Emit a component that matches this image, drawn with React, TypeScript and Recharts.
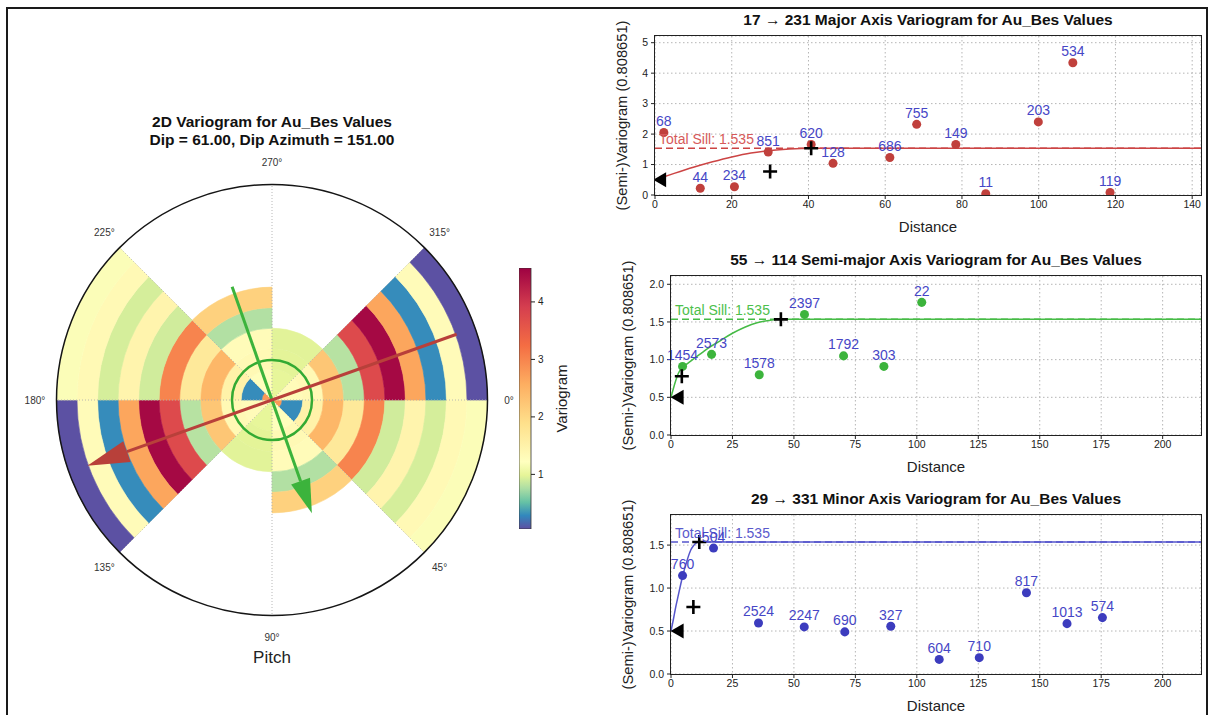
import React from "react";
import {
    Bar, BarChart, CartesianGrid, Cell, ComposedChart, LabelList, Line, Pie, PieChart,
    ReferenceLine, Scatter, XAxis, YAxis,
} from "recharts";

// ---------- 2D variogram in the pitch plane ----------
// one list per 45° pitch bin, lag rings from the centre outwards, null = no pairs
const pitchBins = [0, 45, 90, 135, 180, 225, 270, 315];
const lagRings = [0, 1, 2, 3, 4, 5, 6, 7, 8, 9, 10];
const gammaPitch000 = [2.8, 0.3, 1.5, 2.45, 1.7, 3.0, 0.9, 1.45, 0.92, 1.35, 1.18];
const gammaPitch045 = [1.25, 1.25, 1.35, 1.3, 0.78, 2.1, null, null, null, null, null];
const gammaPitch090 = [1.0, 1.0, 0.98, 0.97, null, null, null, null, null, null, null];
const gammaPitch135 = [1.3, 1.3, 1.35, 2.25, 0.8, 3.75, 4.5, 2.65, 0.3, 1.3, 0.06];
const gammaPitch180 = [2.8, 0.3, 1.5, 2.45, 1.7, 3.0, 0.9, 1.45, 0.92, 1.35, 1.18];
const gammaPitch225 = [1.25, 1.25, 1.35, 1.3, 0.78, 2.1, null, null, null, null, null];
const gammaPitch270 = [1.0, 1.0, 0.98, 0.97, null, null, null, null, null, null, null];
const gammaPitch315 = [1.3, 1.3, 1.35, 2.25, 0.8, 3.75, 4.5, 2.65, 0.3, 1.3, 0.06];
const gammaByPitch = [gammaPitch000, gammaPitch045, gammaPitch090, gammaPitch135,
    gammaPitch180, gammaPitch225, gammaPitch270, gammaPitch315];

// arrows (pitch in degrees, length in lag units)
const majorPitch = 160.4;
const majorLength = 9.55;
const semiMajorPitch = 70.6;
const semiMajorLength = 5.85;
const minorRadius = 1.95;

// colour scale
const colorbarTicks = [1, 2, 3, 4];
const gammaLow = 0.05;
const gammaMid = 1.22;
const gammaHigh = 4.59;

// ---------- directional variograms ----------
const majorLags = [2.3, 11.8, 20.7, 29.5, 40.7, 46.4, 61.2, 68.2, 78.4, 86.2, 99.9, 108.9, 118.6];
const majorGamma = [2.05, 0.22, 0.27, 1.41, 1.66, 1.04, 1.23, 2.32, 1.66, 0.04, 2.40, 4.34, 0.08];
const majorPairs = [68, 44, 234, 851, 620, 128, 686, 755, 149, 11, 203, 534, 119];
const majorModelLags = [0, 5, 10, 15, 20, 25, 30, 35, 40.7, 142.3];
const majorModelGamma = [0.5, 0.71, 0.91, 1.09, 1.25, 1.38, 1.46, 1.51, 1.535, 1.535];
const majorRangeLags = [30.0, 40.7];
const majorRangeGamma = [0.77, 1.535];

const semiLags = [4.7, 16.5, 35.9, 54.3, 70.2, 86.6, 102];
const semiGamma = [0.91, 1.07, 0.80, 1.60, 1.05, 0.91, 1.76];
const semiPairs = [1454, 2573, 1578, 2397, 1792, 303, 22];
const semiModelLags = [0, 1, 2, 3, 4.4, 6, 8, 10, 12.5, 15, 20, 25, 30, 35, 40, 44.7, 215.6];
const semiModelGamma = [0.5, 0.62, 0.73, 0.82, 0.89, 0.93, 0.98, 1.03, 1.09, 1.15, 1.25, 1.35, 1.43, 1.49, 1.52, 1.535, 1.535];
const semiRangeLags = [4.4, 44.7];
const semiRangeGamma = [0.78, 1.535];

const minorLags = [4.7, 17.3, 35.6, 54.2, 70.7, 89.4, 109.1, 125.4, 144.6, 161.1, 175.5];
const minorGamma = [1.145, 1.465, 0.594, 0.548, 0.49, 0.555, 0.17, 0.19, 0.945, 0.586, 0.656];
const minorPairs = [760, 504, 2524, 2247, 690, 327, 604, 710, 817, 1013, 574];
const minorModelLags = [0, 1, 2, 3, 4, 5, 6, 8, 9.1, 10, 11.5, 215.6];
const minorModelGamma = [0.5, 0.64, 0.79, 0.92, 1.05, 1.17, 1.27, 1.44, 1.49, 1.52, 1.535, 1.535];
const minorRangeLags = [9.1, 11.5];
const minorRangeGamma = [0.78, 1.535];

const totalSill = 1.535;
const nuggetGamma = 0.5;

const FONT = '"Liberation Sans", Arial, Helvetica, sans-serif';
const spectralR = ["#5e4fa2", "#3288bd", "#66c2a5", "#abdda4", "#e6f598", "#ffffbf",
    "#fee08b", "#fdae61", "#f46d43", "#d53e4f", "#9e0142"];

const rgb = (h: string) => [1, 3, 5].map(i => parseInt(h.slice(i, i + 2), 16));

function normGamma(v: number) {
    const t = v <= gammaMid
        ? 0.5 * (v - gammaLow) / (gammaMid - gammaLow)
        : 0.5 + 0.5 * (v - gammaMid) / (gammaHigh - gammaMid);
    return Math.min(1, Math.max(0, t));
}

function gammaColor(v: number) {
    const t = normGamma(v) * 10;
    const i = Math.min(9, Math.floor(t));
    const f = t - i;
    const a = rgb(spectralR[i]);
    const b = rgb(spectralR[i + 1]);
    const c = a.map((x, j) => Math.round(x + (b[j] - x) * f));
    return `rgb(${c[0]},${c[1]},${c[2]})`;
}

// polar layout
const PCX = 272;
const PCY = 400;
const PR = 215.5;
const LAG_PX = PR / 10.5;

const polarXY = (lag: number, pitch: number) => {
    const a = pitch * Math.PI / 180;
    return {x: PCX + lag * LAG_PX * Math.cos(a), y: PCY + lag * LAG_PX * Math.sin(a)};
};

function PitchArrow(props: { pitch: number, length: number, color: string, head: number, width: number }) {
    const tip = polarXY(props.length, props.pitch);
    const tail = polarXY(props.length, props.pitch + 180);
    const a = props.pitch * Math.PI / 180;
    const ux = Math.cos(a), uy = Math.sin(a);
    const bx = tip.x - ux * props.head, by = tip.y - uy * props.head;
    const nx = -uy * props.width / 2, ny = ux * props.width / 2;
    return (
        <g>
            <line x1={tail.x} y1={tail.y} x2={bx} y2={by} stroke={props.color} strokeWidth={3}/>
            <polygon points={`${tip.x},${tip.y} ${bx + nx},${by + ny} ${bx - nx},${by - ny}`} fill={props.color}/>
        </g>
    );
}

function PolarVariogram() {
    return (
        <div style={{position: "absolute", left: 0, top: 0}}>
            <PieChart width={600} height={715} margin={{top: 0, right: 0, bottom: 0, left: 0}}>
                {lagRings.map(k => {
                    const data = pitchBins.map((p, i) => ({pitch: p, span: 45, gamma: gammaByPitch[i][k]}));
                    return (
                        <Pie key={k} data={data} dataKey="span" cx={PCX} cy={PCY}
                             innerRadius={Math.max(0, k - 0.5) * LAG_PX} outerRadius={(k + 0.5) * LAG_PX}
                             startAngle={0} endAngle={-360} stroke="none" legendType="none"
                             isAnimationActive={false}>
                            {data.map((d, i) => (
                                <Cell key={i}
                                      fill={d.gamma == null ? "none" : gammaColor(d.gamma)}
                                      stroke={d.gamma == null ? "none" : gammaColor(d.gamma)}
                                      strokeWidth={0.6}/>
                            ))}
                        </Pie>
                    );
                })}
            </PieChart>
            <svg width={600} height={715} style={{position: "absolute", left: 0, top: 0, pointerEvents: "none"}}>
                {pitchBins.map(p => {
                    const e = polarXY(10.5, p);
                    return <line key={p} x1={PCX} y1={PCY} x2={e.x} y2={e.y} stroke="#b0b0b0"
                                 strokeWidth={0.9} strokeDasharray="1 2"/>;
                })}
                <circle cx={PCX} cy={PCY} r={PR} fill="none" stroke="#151515" strokeWidth={1.5}/>
                {pitchBins.map(p => {
                    const l = polarXY(11.55, p);
                    return <text key={p} x={l.x} y={l.y} fontSize={10} fill="#333" textAnchor="middle"
                                 dominantBaseline="central">{p + "°"}</text>;
                })}
                <circle cx={PCX} cy={PCY} r={minorRadius * LAG_PX} fill="none" stroke="#33aa33" strokeWidth={2.5}/>
                <PitchArrow pitch={semiMajorPitch} length={semiMajorLength} color="#3cb33c" head={34} width={20}/>
                <PitchArrow pitch={majorPitch} length={majorLength} color="#b8403a" head={42} width={22}/>
                <text x={PCX} y={127} fontSize={15.5} fontWeight="bold" textAnchor="middle" fill="#111">
                    2D Variogram for Au_Bes Values
                </text>
                <text x={PCX} y={145} fontSize={15.5} fontWeight="bold" textAnchor="middle" fill="#111">
                    Dip = 61.00, Dip Azimuth = 151.00
                </text>
                <text x={PCX} y={663} fontSize={17} textAnchor="middle" fill="#222">Pitch</text>
            </svg>
        </div>
    );
}

function Colorbar() {
    const data = [{k: "cb", range: [gammaLow, gammaHigh]}];
    return (
        <div style={{position: "absolute", left: 519, top: 268}}>
            <BarChart width={60} height={261} data={data} margin={{top: 0, right: 0, bottom: 0, left: 0}}
                      barCategoryGap={0}>
                <XAxis dataKey="k" hide/>
                <YAxis orientation="right" type="number" domain={[gammaLow, gammaHigh]} ticks={colorbarTicks}
                       interval={0} allowDataOverflow width={48} tickSize={4} tickMargin={3} axisLine={false}
                       tickLine={{stroke: "#222"}} tick={{fontSize: 10, fill: "#222"}}
                       label={{value: "Variogram", angle: -90, position: "insideRight", offset: 17,
                           fontSize: 15, fill: "#222", style: {textAnchor: "middle"}}}/>
                <Bar dataKey="range" fill="url(#cbGrad)" stroke="#333" strokeWidth={0.8} isAnimationActive={false}/>
            </BarChart>
        </div>
    );
}

const plusShape = (props: any) => {
    const {cx, cy} = props;
    return <path d={`M${cx - 7},${cy}H${cx + 7}M${cx},${cy - 7}V${cy + 7}`} stroke="#000" strokeWidth={2.6} fill="none"/>;
};

const nuggetShape = (props: any) => {
    const {cx, cy} = props;
    return <path d={`M${cx - 6.5},${cy}L${cx + 6.5},${cy - 7.5}L${cx + 6.5},${cy + 7.5}Z`} fill="#000"/>;
};

type PanelProps = {
    top: number, yAxisWidth: number, yLabelOffset: number, title: string,
    lags: number[], gammas: number[], pairs: number[],
    modelLags: number[], modelGammas: number[], rangeLags: number[], rangeGammas: number[],
    nuggetLag: number, xDomain: number[], xTicks: number[], yDomain: number[], yTicks: number[],
    yFormat: (v: number) => string, pointColor: string, lineColor: string, sillColor: string,
};

function VariogramPanel(p: PanelProps) {
    const marginLeft = 15;
    const marginTop = 36;
    const plotLeft = marginLeft + p.yAxisWidth;
    const plotWidth = 609 - 8 - plotLeft;
    const plotHeight = 159;
    const points = p.lags.map((x, i) => ({x, y: p.gammas[i], n: p.pairs[i]}));
    const model = p.modelLags.map((x, i) => ({x, y: p.modelGammas[i]}));
    const ranges = p.rangeLags.map((x, i) => ({x, y: p.rangeGammas[i]}));
    const nugget = [{x: p.nuggetLag, y: nuggetGamma}];
    const axisTick = {fontSize: 10.5, fill: "#222"};
    return (
        <div style={{position: "absolute", left: 600, top: p.top, width: 609, height: 235}}>
            <div style={{position: "absolute", left: plotLeft, width: plotWidth, top: 12, textAlign: "center",
                fontWeight: "bold", fontSize: 15.5, lineHeight: "16px", color: "#111", whiteSpace: "nowrap"}}>
                {p.title}
            </div>
            <ComposedChart width={609} height={235} margin={{top: marginTop, right: 8, bottom: 0, left: marginLeft}}>
                <CartesianGrid stroke="#b5b5b5" strokeDasharray="1.5 2.5"/>
                <XAxis dataKey="x" type="number" domain={p.xDomain} ticks={p.xTicks} interval={0} allowDataOverflow
                       height={40} tickSize={4} tickMargin={2} tick={axisTick} tickLine={{stroke: "#222"}}
                       axisLine={false}
                       label={{value: "Distance", position: "insideBottom", offset: 3, fontSize: 15, fill: "#222"}}/>
                <YAxis dataKey="y" type="number" domain={p.yDomain} ticks={p.yTicks} interval={0} allowDataOverflow
                       width={p.yAxisWidth} tickSize={4} tickMargin={3} tick={axisTick} tickLine={{stroke: "#222"}}
                       axisLine={false} tickFormatter={p.yFormat}
                       label={{value: "(Semi-)Variogram (0.808651)", angle: -90, position: "insideLeft",
                           offset: p.yLabelOffset, fontSize: 14.7, fill: "#222", style: {textAnchor: "middle"}}}/>
                <ReferenceLine y={totalSill} stroke={p.lineColor} strokeDasharray="7 4" strokeWidth={1.5}
                               label={{value: `Total Sill: ${totalSill.toFixed(3)}`, position: "insideBottomLeft",
                                   offset: 4, fill: p.sillColor, fontSize: 14}}/>
                <Line data={model} dataKey="y" type="monotone" stroke={p.lineColor} strokeWidth={1.5} dot={false}
                      isAnimationActive={false}/>
                <Scatter data={points} fill={p.pointColor} isAnimationActive={false}>
                    <LabelList dataKey="n" position="top" offset={2} fill="#4646c6" fontSize={14}/>
                </Scatter>
                <Scatter data={ranges} shape={plusShape} isAnimationActive={false}/>
                <Scatter data={nugget} shape={nuggetShape} isAnimationActive={false}/>
            </ComposedChart>
            <div style={{position: "absolute", left: plotLeft - 0.65, top: marginTop - 0.65, width: plotWidth + 1.3,
                height: plotHeight + 1.3, border: "1.3px solid #222", boxSizing: "border-box", pointerEvents: "none"}}/>
        </div>
    );
}

const int = (v: number) => String(v);
const oneDec = (v: number) => v.toFixed(1);

export default function App() {
    const stops = spectralR.map((c, t) => {
        const v = t <= 5 ? gammaLow + (t / 5) * (gammaMid - gammaLow) : gammaMid + ((t - 5) / 5) * (gammaHigh - gammaMid);
        return <stop key={t} offset={(v - gammaLow) / (gammaHigh - gammaLow)} stopColor={c}/>;
    });
    return (
        <div style={{position: "absolute", left: 0, top: 0, width: 1209, height: 715, overflow: "hidden",
            background: "#fff", fontFamily: FONT}}>
            <svg width={0} height={0} style={{position: "absolute"}}>
                <defs>
                    <linearGradient id="cbGrad" x1="0" y1="1" x2="0" y2="0">{stops}</linearGradient>
                </defs>
            </svg>
            <div style={{position: "absolute", left: 6, top: 7, width: 1202, height: 760,
                border: "2px solid #1a1a1a", boxSizing: "border-box"}}/>
            <PolarVariogram/>
            <Colorbar/>
            <VariogramPanel top={0} yAxisWidth={40} yLabelOffset={7}
                            title="17 → 231 Major Axis Variogram for Au_Bes Values"
                            lags={majorLags} gammas={majorGamma} pairs={majorPairs}
                            modelLags={majorModelLags} modelGammas={majorModelGamma}
                            rangeLags={majorRangeLags} rangeGammas={majorRangeGamma} nuggetLag={1.2}
                            xDomain={[0, 142.3]} xTicks={[0, 20, 40, 60, 80, 100, 120, 140]}
                            yDomain={[0, 5.22]} yTicks={[0, 1, 2, 3, 4, 5]} yFormat={int}
                            pointColor="#c0403c" lineColor="#cc4444" sillColor="#d65a5a"/>
            <VariogramPanel top={240} yAxisWidth={56} yLabelOffset={13}
                            title="55 → 114 Semi-major Axis Variogram for Au_Bes Values"
                            lags={semiLags} gammas={semiGamma} pairs={semiPairs}
                            modelLags={semiModelLags} modelGammas={semiModelGamma}
                            rangeLags={semiRangeLags} rangeGammas={semiRangeGamma} nuggetLag={2.5}
                            xDomain={[0, 215.6]} xTicks={[0, 25, 50, 75, 100, 125, 150, 175, 200]}
                            yDomain={[0, 2.11]} yTicks={[0, 0.5, 1, 1.5, 2]} yFormat={oneDec}
                            pointColor="#3cb43c" lineColor="#46bb46" sillColor="#4cc04c"/>
            <VariogramPanel top={479} yAxisWidth={56} yLabelOffset={13}
                            title="29 → 331 Minor Axis Variogram for Au_Bes Values"
                            lags={minorLags} gammas={minorGamma} pairs={minorPairs}
                            modelLags={minorModelLags} modelGammas={minorModelGamma}
                            rangeLags={minorRangeLags} rangeGammas={minorRangeGamma} nuggetLag={2.5}
                            xDomain={[0, 215.6]} xTicks={[0, 25, 50, 75, 100, 125, 150, 175, 200]}
                            yDomain={[0, 1.85]} yTicks={[0, 0.5, 1, 1.5]} yFormat={oneDec}
                            pointColor="#3c3cbe" lineColor="#5656cc" sillColor="#5a5acc"/>
        </div>
    );
}
